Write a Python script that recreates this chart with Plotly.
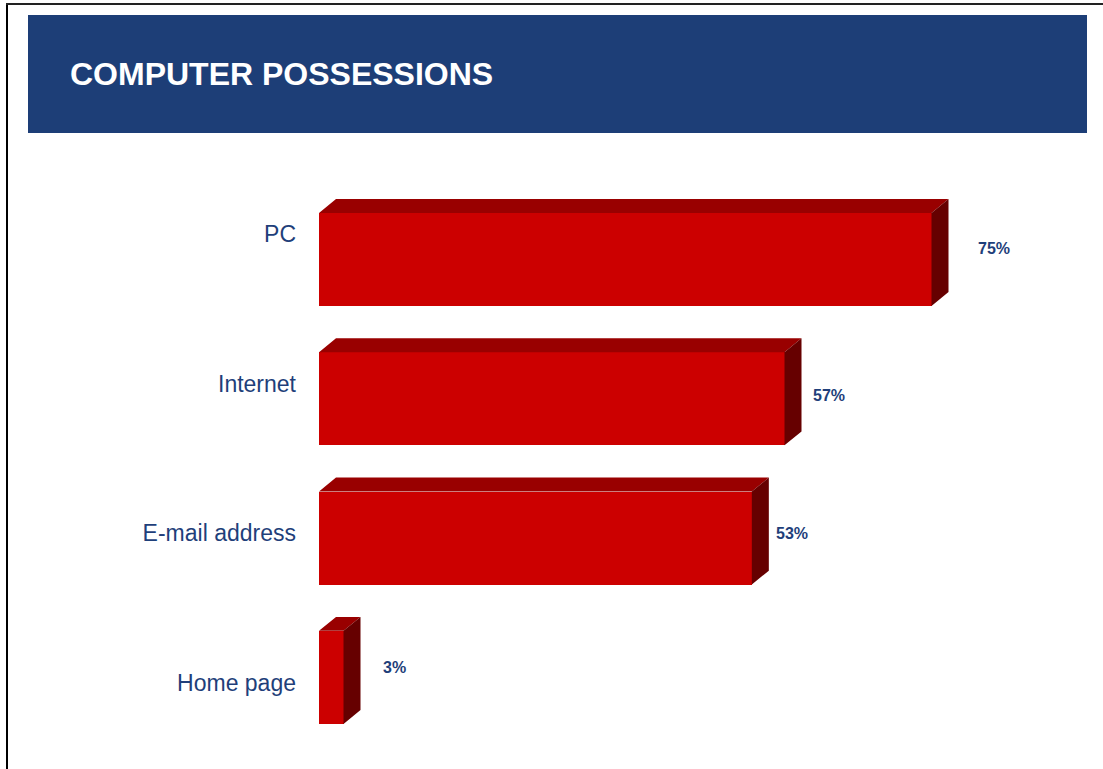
import plotly.graph_objects as go

# Data
categories = ["PC", "Internet", "E-mail address", "Home page"]
values = [75, 57, 53, 3]
value_labels = ["75%", "57%", "53%", "3%"]

# Styling
W, H = 1103, 769
M_L, M_R, M_T, M_B = 319, 49, 162, 22
PLOT_W = W - M_L - M_R
PLOT_H = H - M_T - M_B
X_MAX = 90
NAVY = "#1D3E77"
TEXT_BLUE = "#1F3F7A"
FRONT = "#CC0000"
TOP = "#990000"
SIDE = "#660000"
BAR_W = 0.668           # bar thickness in category units
DEPTH_X = 17 / (PLOT_W / X_MAX)   # 3D depth, in value units
DEPTH_Y = 0.10                    # 3D depth, in category units
label_gap_px = [27, 9, 5, 20]
label_lift_px = [11, 3, 5, 10]
FONT = "Liberation Sans, Arial, sans-serif"


def px_x(p):
    return (p - M_L) / PLOT_W


def px_y(p):
    return 1 - (p - M_T) / PLOT_H


pos = list(range(len(categories)))

fig = go.Figure()

# Front faces
fig.add_trace(go.Bar(
    y=pos, x=values, orientation="h", width=BAR_W,
    marker=dict(color=FRONT, line=dict(width=0)),
    hoverinfo="skip", showlegend=False,
))

# Top and side faces for the 3D look
top_x, top_y, side_x, side_y = [], [], [], []
for i, v in zip(pos, values):
    y0 = i - BAR_W / 2
    y1 = i + BAR_W / 2
    top_x += [0, v, v + DEPTH_X, DEPTH_X, 0, None]
    top_y += [y0, y0, y0 - DEPTH_Y, y0 - DEPTH_Y, y0, None]
    side_x += [v, v + DEPTH_X, v + DEPTH_X, v, v, None]
    side_y += [y0, y0 - DEPTH_Y, y1 - DEPTH_Y, y1, y0, None]

fig.add_trace(go.Scatter(
    x=top_x, y=top_y, mode="lines", fill="toself", fillcolor=TOP,
    line=dict(width=0, color=TOP), hoverinfo="skip", showlegend=False,
))
fig.add_trace(go.Scatter(
    x=side_x, y=side_y, mode="lines", fill="toself", fillcolor=SIDE,
    line=dict(width=0, color=SIDE), hoverinfo="skip", showlegend=False,
))

# Invisible trace carrying the category axis
fig.add_trace(go.Scatter(
    x=[0] * len(pos), y=pos, yaxis="y2", mode="markers",
    marker=dict(size=1, opacity=0), hoverinfo="skip", showlegend=False,
))

annotations = []
for i, v, lab, gap, lift in zip(pos, values, value_labels, label_gap_px, label_lift_px):
    annotations.append(dict(
        x=v + DEPTH_X, y=i, xref="x", yref="y", text=f"<b>{lab}</b>",
        showarrow=False, xanchor="left", yanchor="middle",
        xshift=gap, yshift=lift,
        font=dict(family=FONT, size=16, color=TEXT_BLUE),
    ))

annotations.append(dict(
    x=px_x(68), y=px_y(74), xref="paper", yref="paper",
    text="<b>COMPUTER POSSESSIONS</b>", showarrow=False,
    xanchor="left", yanchor="middle",
    font=dict(family=FONT, size=32, color="white"),
))

shapes = [
    dict(type="rect", xref="paper", yref="paper",
         x0=px_x(28), x1=px_x(1087), y0=px_y(133), y1=px_y(15),
         fillcolor=NAVY, line=dict(width=0), layer="below"),
    dict(type="line", xref="paper", yref="paper",
         x0=px_x(7), x1=px_x(7), y0=px_y(H + 2), y1=px_y(3),
         line=dict(color="black", width=2)),
    dict(type="line", xref="paper", yref="paper",
         x0=px_x(6), x1=px_x(W + 2), y0=px_y(4), y1=px_y(4),
         line=dict(color="#222222", width=2)),
]

# Category labels sit on an overlaying axis with its own spacing
lab_top = (M_T - 234) / 149.7
lab_bot = (H - M_B - 234) / 149.7

fig.update_layout(
    width=W, height=H,
    margin=dict(l=M_L, r=M_R, t=M_T, b=M_B),
    paper_bgcolor="white", plot_bgcolor="white",
    xaxis=dict(range=[0, X_MAX], visible=False, fixedrange=True),
    yaxis=dict(range=[3.5, -0.7], visible=False, fixedrange=True),
    yaxis2=dict(
        overlaying="y", side="left", anchor="x",
        range=[lab_bot, lab_top], tickmode="array",
        tickvals=pos, ticktext=categories, ticks="",
        ticklabelstandoff=22, showgrid=False, zeroline=False, showline=False,
        tickfont=dict(family=FONT, size=23, color=TEXT_BLUE),
        fixedrange=True,
    ),
    bargap=0,
    annotations=annotations,
    shapes=shapes,
    showlegend=False,
)

fig.write_html("out.html")
